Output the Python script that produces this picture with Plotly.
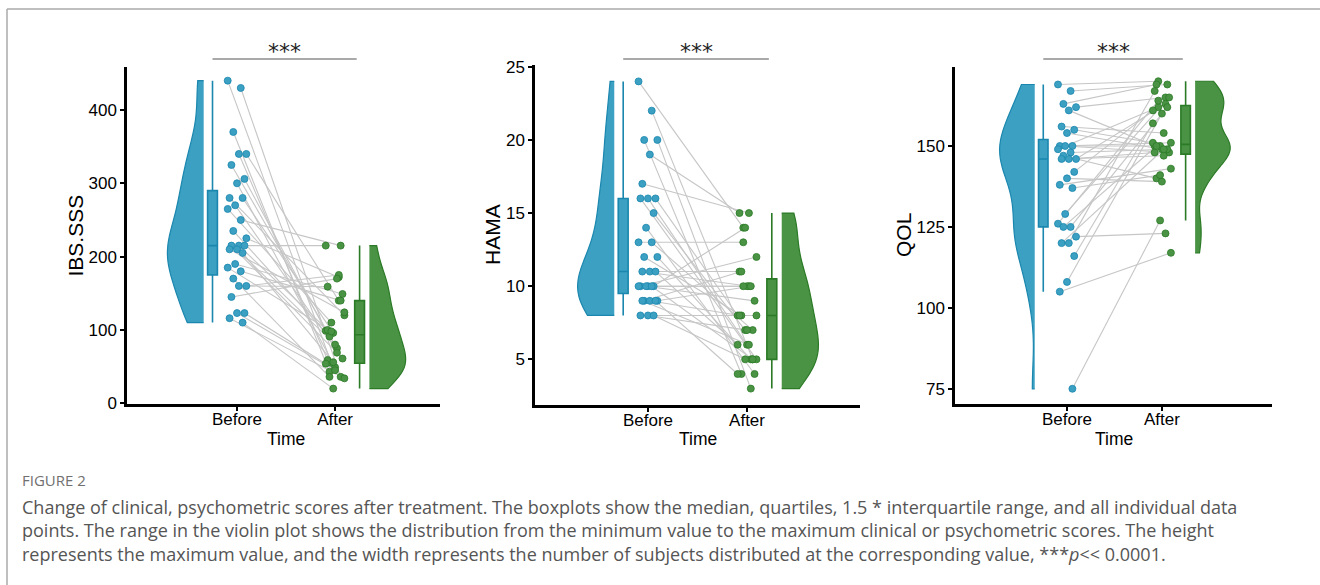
import numpy as np
import plotly.graph_objects as go

W, H = 1320, 585

groups = ["Before", "After"]

ibs_before = [440, 430, 370, 340, 340, 325, 306, 300, 280, 280, 270, 265, 250, 235, 225, 215,
              215, 215, 210, 210, 205, 190, 185, 180, 170, 160, 160, 145, 123, 123, 116, 110]
ibs_after = [55, 36, 43, 140, 59, 75, 99, 49, 120, 96, 61, 110, 215, 91, 172, 100,
             69, 215, 80, 124, 56, 149, 98, 140, 36, 175, 159, 170, 54, 45, 34, 20]

hama_before = [24, 22, 20, 20, 19, 17, 16, 16, 16, 15, 14, 13, 13, 12, 12, 11,
               11, 11, 10, 10, 10, 10, 10, 10, 9, 9, 9, 9, 9, 8, 8, 8]
hama_after = [14, 5, 4, 3, 15, 15, 8, 6, 5, 7, 4, 13, 7, 8, 5, 11,
              10, 6, 10, 12, 14, 9, 10, 5, 11, 10, 8, 6, 4, 7, 8, 5]

qol_before = [169, 167, 163, 162, 161, 156, 155, 154, 150, 150, 150, 149, 148, 147, 146, 146,
              146, 142, 140, 138, 137, 129, 126, 125, 125, 122, 120, 120, 116, 108, 105, 75]
qol_after = [170, 169, 169, 165, 150, 154, 151, 149, 151, 150, 148, 162, 149, 140, 163, 148,
             147, 161, 139, 143, 141, 165, 164, 162, 150, 123, 167, 149, 157, 160, 117, 127]

y_titles = ["IBS.SSS", "HAMA", "QOL"]
y_ticks = [[0, 100, 200, 300, 400], [5, 10, 15, 20, 25], [75, 100, 125, 150]]

BLUE, BLUE_D = "#3ba0c2", "#1b87ae"
GREEN, GREEN_D = "#4a9345", "#2b7a26"
FONT = "Liberation Sans, Arial, Helvetica, sans-serif"

# layout geometry (pixels)
panels = [
    dict(b=ibs_before, a=ibs_after, xpx=(127, 440), ypx=(67, 404), xr=(-0.122, 3.07), yr=(-1, 458.6), toff=52),
    dict(b=hama_before, a=hama_after, xpx=(535, 860), ypx=(65, 405), xr=(-0.14, 3.14), yr=(1.88, 25.12), toff=43),
    dict(b=qol_before, a=qol_after, xpx=(955, 1272), ypx=(67, 404), xr=(-0.18, 3.16), yr=(70.3, 174.4), toff=51.5),
]


def nrd0(v):
    v = np.asarray(v, float)
    sd = v.std(ddof=1)
    iqr = np.percentile(v, 75) - np.percentile(v, 25)
    return 0.9 * min(sd, iqr / 1.34) * len(v) ** (-0.2)


fig = go.Figure()
layout = dict(
    width=W, height=H, margin=dict(l=0, r=0, t=0, b=0, autoexpand=False),
    paper_bgcolor="white", plot_bgcolor="white",
    showlegend=False, violinmode="overlay", boxmode="overlay",
    font=dict(family=FONT, color="black"),
)
annotations = []
shapes = []

for k, p in enumerate(panels):
    sx = "" if k == 0 else str(k + 1)
    xa, ya = "x" + sx, "y" + sx
    n = len(p["b"])
    jb = [((i * 7) % 11 - 5) * 0.019 for i in range(n)]
    ja = [((i * 5 + 3) % 11 - 5) * 0.019 for i in range(n)]

    # half violins
    fig.add_trace(go.Violin(
        x=[0.66] * n, y=p["b"], side="negative", width=0.74, spanmode="hard",
        points=False, bandwidth=nrd0(p["b"]), scalemode="width",
        fillcolor=BLUE, line=dict(color=BLUE_D, width=1.2), opacity=1,
        xaxis=xa, yaxis=ya, hoverinfo="skip"))
    fig.add_trace(go.Violin(
        x=[2.35] * n, y=p["a"], side="positive", width=0.74, spanmode="hard",
        points=False, bandwidth=nrd0(p["a"]), scalemode="width",
        fillcolor=GREEN, line=dict(color=GREEN_D, width=1.2), opacity=1,
        xaxis=xa, yaxis=ya, hoverinfo="skip"))
    # boxes
    fig.add_trace(go.Box(
        x=[0.75] * n, y=p["b"], width=0.1, boxpoints="outliers", marker=dict(opacity=0),
        fillcolor=BLUE, line=dict(color=BLUE_D, width=1.6), whiskerwidth=0,
        xaxis=xa, yaxis=ya, hoverinfo="skip"))
    fig.add_trace(go.Box(
        x=[2.25] * n, y=p["a"], width=0.1, boxpoints="outliers", marker=dict(opacity=0),
        fillcolor=GREEN, line=dict(color=GREEN_D, width=1.6), whiskerwidth=0,
        xaxis=xa, yaxis=ya, hoverinfo="skip"))
    # paired lines
    lx, ly = [], []
    for i in range(n):
        lx += [1 + jb[i], 2 + ja[i], None]
        ly += [p["b"][i], p["a"][i], None]
    fig.add_trace(go.Scatter(x=lx, y=ly, mode="lines", line=dict(color="#c6c6c6", width=1.1),
                             xaxis=xa, yaxis=ya, hoverinfo="skip"))
    fig.add_trace(go.Scatter(x=[1 + j for j in jb], y=p["b"], mode="markers",
                             marker=dict(size=7, color=BLUE, line=dict(color=BLUE_D, width=0.8)),
                             xaxis=xa, yaxis=ya, hoverinfo="skip"))
    fig.add_trace(go.Scatter(x=[2 + j for j in ja], y=p["a"], mode="markers",
                             marker=dict(size=7, color=GREEN, line=dict(color=GREEN_D, width=0.8)),
                             xaxis=xa, yaxis=ya, hoverinfo="skip"))

    x0, x1 = p["xpx"]
    yt, yb = p["ypx"]
    ax_common = dict(showgrid=False, zeroline=False, showline=True, linecolor="black", linewidth=2.5,
                     ticks="outside", ticklen=4, tickwidth=2, tickcolor="black", automargin=False,
                     tickfont=dict(size=17, color="black", family=FONT), fixedrange=True)
    layout["xaxis" + sx] = dict(ax_common, domain=[x0 / W, x1 / W], range=list(p["xr"]),
                                tickvals=[1, 2], ticktext=groups, anchor=ya, ticklabelstandoff=-6)
    layout["yaxis" + sx] = dict(ax_common, domain=[1 - yb / H, 1 - yt / H], range=list(p["yr"]),
                                tickvals=y_ticks[k], anchor=xa)

    dh = yb - yt
    # axis titles
    annotations.append(dict(text=y_titles[k], xref="paper", yref="paper",
                            x=(x0 - p["toff"]) / W, y=1 - (yt + yb) / 2 / H, textangle=-90,
                            showarrow=False, font=dict(size=21, family=FONT, color="black"),
                            xanchor="center", yanchor="middle"))
    annotations.append(dict(text="Time", xref=xa, yref="paper", x=1.5, y=1 - 439 / H,
                            showarrow=False, font=dict(size=17.5, family=FONT, color="black"),
                            xanchor="center", yanchor="middle"))
    # significance bar
    shapes.append(dict(type="line", xref=xa, yref=ya + " domain", x0=0.75, x1=2.22,
                       y0=1 + (yt - 59) / dh, y1=1 + (yt - 59) / dh,
                       line=dict(color="#555555", width=1.2)))
    annotations.append(dict(text="***", xref=xa, yref=ya + " domain", x=1.485, y=1 + (yt - 51) / dh,
                            showarrow=False, font=dict(size=22, family="DejaVu Sans", color="#222222"),
                            xanchor="center", yanchor="middle"))

# page frame
shapes.append(dict(type="line", xref="paper", yref="paper", x0=7 / W, x1=1, y0=1 - 9 / H, y1=1 - 9 / H,
                   line=dict(color="#aaaaaa", width=1.5)))
shapes.append(dict(type="line", xref="paper", yref="paper", x0=7 / W, x1=7 / W, y0=0, y1=1 - 9 / H,
                   line=dict(color="#aaaaaa", width=1.5)))

# caption
CAP = "Open Sans, Lato, sans-serif"
annotations.append(dict(text="FIGURE 2", xref="paper", yref="paper", x=20 / W, y=1 - 480 / H,
                        showarrow=False, xanchor="left", yanchor="middle",
                        font=dict(size=15, family=CAP, color="#707070")))
cap_lines = [
    "Change of clinical, psychometric scores after treatment. The boxplots show the median, quartiles, 1.5 * interquartile range, and all individual data",
    "points. The range in the violin plot shows the distribution from the minimum value to the maximum clinical or psychometric scores. The height",
    "represents the maximum value, and the width represents the number of subjects distributed at the corresponding value, ***<i>p</i>&lt;&lt; 0.0001.",
]
annotations.append(dict(text="<br>".join(cap_lines), xref="paper", yref="paper", x=20 / W, y=1 - 530 / H,
                        showarrow=False, xanchor="left", yanchor="middle", align="left",
                        font=dict(size=18, family=CAP, color="#555555")))

layout["annotations"] = annotations
layout["shapes"] = shapes
fig.update_layout(**layout)
fig.write_html("out.html")
